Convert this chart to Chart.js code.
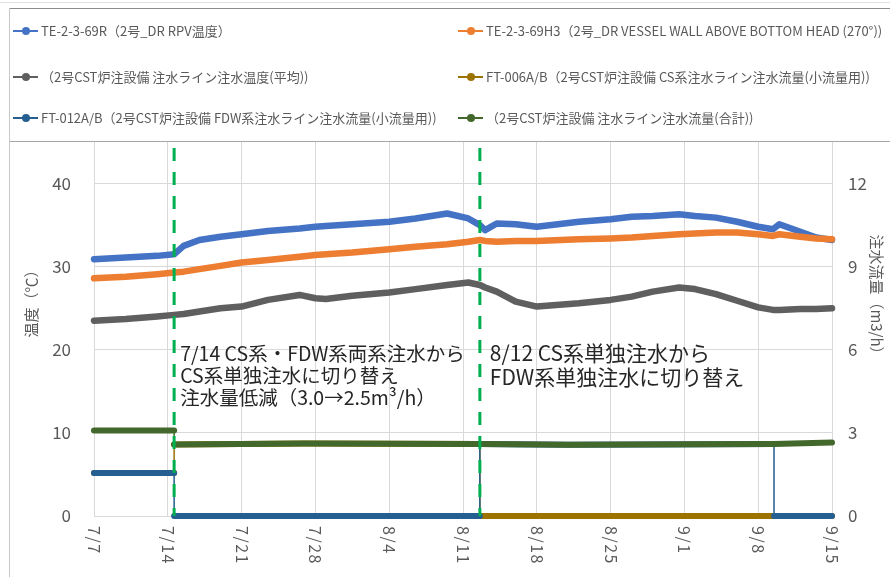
<!DOCTYPE html>
<html>
<head>
<meta charset="utf-8">
<script src="https://cdn.jsdelivr.net/npm/chart.js@4"></script>
<style>
  body { margin: 0; background: #fff; }
  #wrap { position: relative; width: 890px; height: 579px; overflow: hidden; font-family: "Noto Sans CJK JP", sans-serif; }
  #chart { position: absolute; left: 0; top: 0; }
  .frame-top { position: absolute; left: 10px; right: 0; top: 8px; border-top: 1.5px solid #8c8c8c; }
  .frame-thin { position: absolute; left: 0; right: 0; top: 2px; border-top: 1px solid #e2e2e2; }
  .frame-mid { position: absolute; left: 10px; right: 0; top: 141px; border-top: 1.5px solid #a6a6a6; }
  .frame-left { position: absolute; left: 9px; top: 8px; height: 569px; border-left: 1px solid #c8c8c8; }
  .leg { position: absolute; white-space: nowrap; font-size: 13px; color: #595959; line-height: 16px; }
  .leg i { display: inline-block; position: relative; width: 25px; height: 2px; vertical-align: middle; margin-right: 3px; top: -1px; }
  .leg i b { position: absolute; left: 9px; top: -3px; width: 8px; height: 8px; border-radius: 50%; }
</style>
</head>
<body>
<div id="wrap">
  <canvas id="chart" width="890" height="579"></canvas>
  <div class="frame-thin"></div>
  <div class="frame-top"></div>
  <div class="frame-mid"></div>
  <div class="frame-left"></div>
  <div id="legend"></div>
</div>
<script>
// x axis: days since 7/7
const dayLabels = ['7/7', '7/14', '7/21', '7/28', '8/4', '8/11', '8/18', '8/25', '9/1', '9/8', '9/15'];

// temperatures (℃)
const tempDays = [0, 3, 6, 7.6, 8.5, 10, 12, 14, 16.5, 19.5, 21, 22, 24.5, 28, 30.5, 33.5, 35.5, 36.6, 37.1, 38.2,
                  40, 42, 46, 49, 51, 53, 55.5, 57, 59, 61, 63, 64.4, 65, 67, 68.5, 70];
const rpvTemp = [30.9, 31.1, 31.3, 31.5, 32.5, 33.2, 33.6, 33.9, 34.3, 34.6, 34.8, 34.9, 35.1, 35.4, 35.8, 36.4, 35.8, 35.0, 34.4, 35.2,
                 35.1, 34.8, 35.4, 35.7, 36.0, 36.1, 36.3, 36.1, 35.9, 35.4, 34.8, 34.5, 35.1, 34.2, 33.5, 33.2];
const wallTemp = [28.6, 28.8, 29.1, 29.3, 29.4, 29.7, 30.1, 30.5, 30.8, 31.2, 31.4, 31.5, 31.7, 32.1, 32.4, 32.7, 33.0, 33.2, 33.1, 33.0,
                  33.1, 33.1, 33.3, 33.4, 33.5, 33.7, 33.9, 34.0, 34.1, 34.1, 33.9, 33.7, 33.9, 33.6, 33.4, 33.3];
const injTemp = [23.5, 23.7, 24.0, 24.2, 24.3, 24.6, 25.0, 25.2, 26.0, 26.6, 26.2, 26.1, 26.5, 26.9, 27.3, 27.8, 28.1, 27.8, 27.5, 27.0,
                 25.8, 25.2, 25.6, 26.0, 26.4, 27.0, 27.5, 27.3, 26.7, 25.9, 25.1, 24.8, 24.8, 24.9, 24.9, 25.0];

// flows (m3/h)
const csDays = [0, 7.6, 7.6, 20, 36.6, 36.6, 70];
const csFlow = [1.55, 1.55, 2.58, 2.62, 2.6, 0, 0];
const fdwDays = [0, 7.6, 7.6, 36.6, 36.6, 45, 64.5, 64.5, 70];
const fdwFlow = [1.55, 1.55, 0, 0, 2.6, 2.57, 2.6, 0, 0];
const totalDays = [0, 7.6, 7.6, 20, 36.6, 45, 64.5, 70];
const totalFlow = [3.09, 3.09, 2.58, 2.62, 2.6, 2.57, 2.6, 2.65];

// operation changes
const eventDays = [7.6, 36.6];
const eventNotes = [
  ['7/14 CS系・FDW系両系注水から', 'CS系単独注水に切り替え', '注水量低減（3.0→2.5m³/h）'],
  ['8/12 CS系単独注水から', 'FDW系単独注水に切り替え']
];

const seriesNames = [
  'TE-2-3-69R（2号_DR RPV温度）',
  'TE-2-3-69H3（2号_DR VESSEL WALL ABOVE BOTTOM HEAD (270°))',
  '（2号CST炉注設備  注水ライン注水温度(平均))',
  'FT-006A/B（2号CST炉注設備 CS系注水ライン注水流量(小流量用))',
  'FT-012A/B（2号CST炉注設備 FDW系注水ライン注水流量(小流量用))',
  '（2号CST炉注設備 注水ライン注水流量(合計))'
];
const seriesColors = ['#4472c4', '#ed7d31', '#5f5f5f', '#9c7300', '#255e91', '#43682b'];

function pts(xs, ys) {
  return xs.map(function (x, i) { return { x: x, y: ys[i] }; });
}

const FONT = '"Noto Sans CJK JP", sans-serif';
const seriesData = [
  [pts(tempDays, rpvTemp), 'yT'],
  [pts(tempDays, wallTemp), 'yT'],
  [pts(tempDays, injTemp), 'yT'],
  [pts(csDays, csFlow), 'yF'],
  [pts(fdwDays, fdwFlow), 'yF'],
  [pts(totalDays, totalFlow), 'yF']
];

const datasets = seriesData.map(function (s, i) {
  return {
    label: seriesNames[i],
    data: s[0],
    yAxisID: s[1],
    borderColor: seriesColors[i],
    backgroundColor: seriesColors[i],
    borderWidth: i < 3 ? 6.5 : 6,
    borderCapStyle: 'round',
    borderJoinStyle: 'round',
    pointRadius: 0,
    tension: 0,
    clip: false,
    order: 10 - i,
    segment: {
      // step changes are drawn thin, like the connector in the original
      borderWidth: function (ctx) { return ctx.p0.parsed.x === ctx.p1.parsed.x ? 1.5 : undefined; }
    }
  };
});

// legend (two columns, three rows)
const legendPos = [[13, 23], [458, 23], [13, 69], [458, 69], [13, 110], [458, 110]];
const legendEl = document.getElementById('legend');
seriesNames.forEach(function (name, i) {
  const d = document.createElement('div');
  d.className = 'leg';
  d.style.left = legendPos[i][0] + 'px';
  d.style.top = legendPos[i][1] + 'px';
  d.innerHTML = '<i style="background:' + seriesColors[i] + '"><b style="background:' + seriesColors[i] + '"></b></i>';
  d.appendChild(document.createTextNode(name));
  legendEl.appendChild(d);
});

const overlay = {
  id: 'overlay',
  afterDatasetsDraw: function (chart) {
    const ctx = chart.ctx;
    const xs = chart.scales.x;
    const yT = chart.scales.yT;
    const area = chart.chartArea;
    ctx.save();
    // dashed event lines
    ctx.strokeStyle = '#00b050';
    ctx.lineWidth = 3;
    ctx.setLineDash([13, 11]);
    eventDays.forEach(function (d) {
      const px = xs.getPixelForValue(d);
      ctx.beginPath();
      ctx.moveTo(px, area.top + 6);
      ctx.lineTo(px, area.bottom);
      ctx.stroke();
    });
    ctx.setLineDash([]);
    // notes
    ctx.fillStyle = '#262626';
    ctx.textBaseline = 'middle';
    ctx.textAlign = 'left';
    const noteFont = [19.5, 21];
    const noteGap = [22, 24];
    const noteDx = [6, 10];
    eventNotes.forEach(function (lines, k) {
      ctx.font = noteFont[k] + 'px ' + FONT;
      const px = xs.getPixelForValue(eventDays[k]) + noteDx[k];
      const py = yT.getPixelForValue(19.6);
      lines.forEach(function (t, j) { ctx.fillText(t, px, py + j * noteGap[k]); });
    });
    ctx.restore();
  },
  afterDraw: function (chart) {
    const ctx = chart.ctx;
    const xs = chart.scales.x;
    const area = chart.chartArea;
    ctx.save();
    ctx.fillStyle = '#595959';
    // x tick labels, rotated clockwise
    ctx.font = '16px ' + FONT;
    ctx.letterSpacing = '1.5px';
    ctx.textAlign = 'left';
    ctx.textBaseline = 'middle';
    dayLabels.forEach(function (lab, i) {
      const px = xs.getPixelForValue(i * 7);
      ctx.save();
      ctx.translate(px, area.bottom + 10);
      ctx.rotate(Math.PI / 2);
      ctx.fillText(lab, 0, 0);
      ctx.restore();
    });
    ctx.letterSpacing = '0px';
    // axis titles
    ctx.textAlign = 'center';
    ctx.font = '15px ' + FONT;
    ctx.save();
    ctx.translate(31, 300);
    ctx.rotate(-Math.PI / 2);
    ctx.fillText('温度（℃）', 0, 0);
    ctx.restore();
    ctx.save();
    ctx.translate(877, 298);
    ctx.rotate(Math.PI / 2);
    ctx.fillText('注水流量（m3/h）', 0, 0);
    ctx.restore();
    ctx.restore();
  }
};

new Chart(document.getElementById('chart'), {
  type: 'line',
  data: { datasets: datasets },
  options: {
    responsive: false,
    animation: false,
    events: [],
    layout: { padding: { top: 142, left: 0, right: 0, bottom: 0 } },
    plugins: { legend: { display: false }, tooltip: { enabled: false } },
    scales: {
      x: {
        type: 'linear',
        min: 0,
        max: 70,
        ticks: { stepSize: 7, display: false },
        grid: { color: '#d9d9d9', drawTicks: false },
        border: { display: false },
        afterFit: function (s) { s.height = 63; }
      },
      yT: {
        position: 'left',
        min: 0,
        max: 45,
        ticks: { stepSize: 10, includeBounds: false, padding: 23, color: '#595959', font: { family: FONT, size: 17 } },
        grid: { color: '#d9d9d9', drawTicks: false },
        border: { display: false },
        afterFit: function (s) { s.width = 94; }
      },
      yF: {
        position: 'right',
        min: 0,
        max: 13.5,
        ticks: { stepSize: 3, includeBounds: false, padding: 16, color: '#595959', font: { family: FONT, size: 17 } },
        grid: { drawOnChartArea: false, drawTicks: false },
        border: { display: false },
        afterFit: function (s) { s.width = 58; }
      }
    }
  },
  plugins: [overlay]
});
</script>
</body>
</html>
